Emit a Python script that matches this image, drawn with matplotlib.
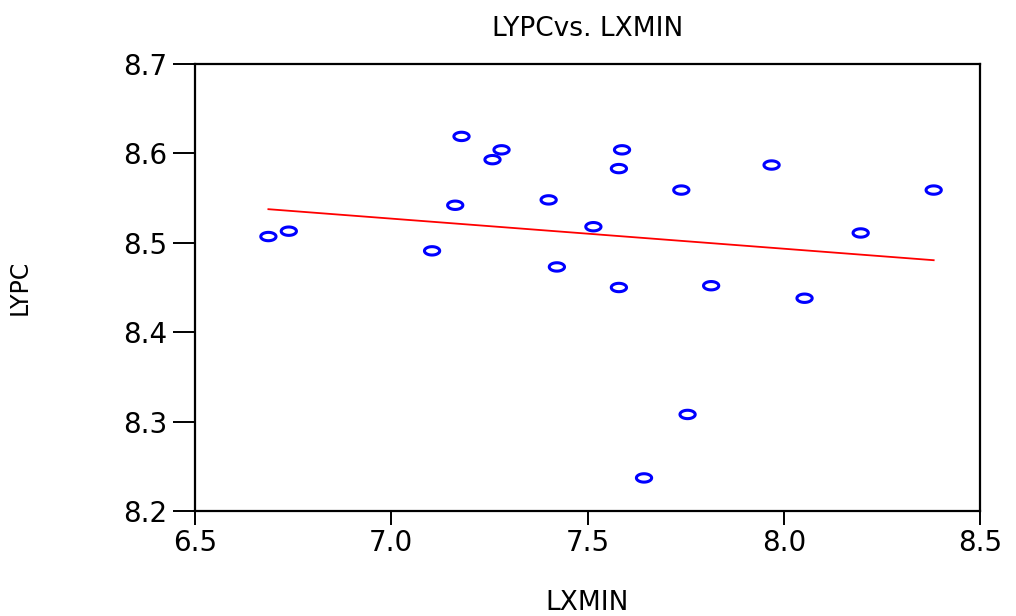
import numpy as np
import matplotlib
matplotlib.use("Agg")
import matplotlib.pyplot as plt
from matplotlib.path import Path

plt.rcParams['font.family'] = ['DejaVu Sans']

# LXMIN / LYPC observations
lxmin = [6.687, 6.739, 7.104, 7.163, 7.179, 7.258, 7.281, 7.401, 7.422, 7.515, 7.580,
         7.588, 7.580, 7.644, 7.739, 7.755, 7.815, 7.969, 8.053, 8.196, 8.382]
lypc = [8.507, 8.513, 8.491, 8.542, 8.619, 8.593, 8.604, 8.548, 8.473, 8.518, 8.583,
        8.604, 8.450, 8.237, 8.559, 8.308, 8.452, 8.587, 8.438, 8.511, 8.559]

xticks = [6.5, 7.0, 7.5, 8.0, 8.5]
yticks = [8.2, 8.3, 8.4, 8.5, 8.6, 8.7]

x = np.array(lxmin)
y = np.array(lypc)

# least squares fit line
slope, intercept = np.polyfit(x, y, 1)
xfit = np.array([x.min(), x.max()])
yfit = intercept + slope * xfit

# wide ellipse marker
t = np.linspace(0, 2 * np.pi, 60)
ellipse = Path(np.column_stack([np.cos(t), 0.55 * np.sin(t)]), closed=True)

fig = plt.figure(figsize=(10.16, 6.16), dpi=100)
ax = fig.add_axes([195 / 1016, 1 - 511 / 616, 785 / 1016, 447 / 616])

ax.plot(xfit, yfit, color='red', linewidth=1.3, zorder=2)
ax.scatter(x, y, marker=ellipse, s=120, facecolors='none', edgecolors='#0000ff',
           linewidths=2.2, zorder=3)

ax.set_xlim(6.5, 8.5)
ax.set_ylim(8.2, 8.7)
ax.set_xticks(xticks)
ax.set_xticklabels([f"{v:.1f}" for v in xticks])
ax.set_yticks(yticks)
ax.set_yticklabels([f"{v:.1f}" for v in yticks])

for s in ax.spines.values():
    s.set_linewidth(1.6)
    s.set_color('black')

ax.tick_params(axis='y', direction='out', length=16, width=1.4, labelsize=20, pad=4)
ax.tick_params(axis='x', direction='out', length=10, width=1.4, labelsize=20, pad=3)

ax.set_title("LYPCvs. LXMIN", fontsize=19, pad=20)
ax.set_xlabel("LXMIN", fontsize=19, labelpad=24)
ax.set_ylabel("LYPC", fontsize=17, labelpad=66)

fig.savefig("out.png", dpi=100)
